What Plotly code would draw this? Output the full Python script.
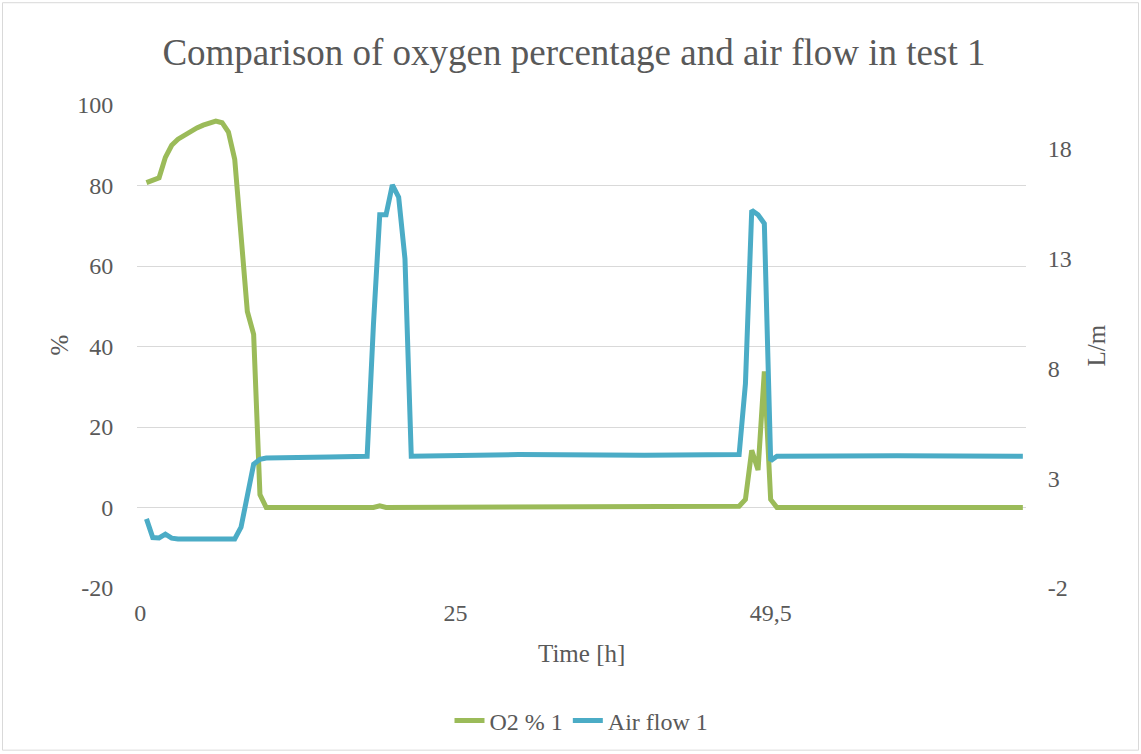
import plotly.graph_objects as go

# Sample positions (category index on the time axis, 0.5 h steps) and readings
o2_sample = [1, 2, 3, 4, 5, 6, 7, 8, 9, 10, 11, 12, 13, 14, 15, 16, 17, 18, 19, 20,
             37, 38, 39, 95, 96, 97, 98, 99, 100, 101, 140]
o2_pct = [80.7, 81.2, 81.9, 87.0, 90.0, 91.5, 92.5, 93.5, 94.3, 95.0, 95.6, 96.0, 95.6,
          93.3, 86.5, 67.5, 48.7, 43.0, 3.2, 0.0,
          0.0, 0.4, 0.0, 0.3, 2.0, 14.2, 9.3, 33.8, 2.0, 0.0, 0.0]

air_sample = [1, 2, 3, 4, 5, 6, 15, 16, 17, 18, 19, 20, 30, 36, 37, 38, 39, 40, 41, 42, 43,
              60, 80, 95, 96, 97, 98, 99, 100, 101, 120, 140]
air_flow = [1.15, 0.3, 0.28, 0.45, 0.27, 0.23, 0.23, 0.77, 2.2, 3.64, 3.86, 3.92, 3.97, 4.0,
            10.0, 15.0, 15.0, 16.36, 15.8, 13.0, 4.0,
            4.08, 4.05, 4.08, 7.3, 15.2, 15.0, 14.6, 3.8, 4.0, 4.02, 4.0]

time_tick_samples = [0, 50, 100]
time_tick_labels = ["0", "25", "49,5"]

pct_ticks = [-20, 0, 20, 40, 60, 80, 100]
pct_tick_labels = ["-20", "0", "20", "40", "60", "80", "100"]
flow_ticks = [-2, 3, 8, 13, 18]
flow_tick_labels = ["-2", "3", "8", "13", "18"]

GREEN = "#9BBB59"
BLUE = "#4BACC6"
TXT = "#595959"
FONT = "Liberation Serif"
TICK_SIZE = 24
AXTITLE_SIZE = 25

W, H = 1141, 754
L, R, T, B = 137, 1026, 105, 589  # plot area pixels

def px(x):
    return (x - L) / (R - L)

def py(y):
    return (B - y) / (B - T)

fig = go.Figure()
fig.add_trace(go.Scatter(x=o2_sample, y=o2_pct, name="O2 % 1", mode="lines",
                         line=dict(color=GREEN, width=5), yaxis="y"))
fig.add_trace(go.Scatter(x=air_sample, y=air_flow, name="Air flow 1", mode="lines",
                         line=dict(color=BLUE, width=5), yaxis="y2"))

tf = dict(family=FONT, size=TICK_SIZE, color=TXT)

fig.update_layout(
    width=W, height=H,
    margin=dict(l=L, r=W - R, t=T, b=H - B, pad=0),
    paper_bgcolor="white", plot_bgcolor="white",
    font=dict(family=FONT, color=TXT, size=TICK_SIZE),
    title=dict(text="Comparison of oxygen percentage and air flow in test 1",
               font=dict(family=FONT, size=37, color=TXT),
               x=0.503, xref="container", xanchor="center",
               y=1 - 52 / H, yref="container", yanchor="middle"),
    xaxis=dict(range=[-0.5, 140.5], tickmode="array", tickvals=time_tick_samples,
               ticktext=time_tick_labels, showgrid=False, zeroline=False,
               showline=False, ticks="outside", ticklen=3,
               tickcolor="rgba(0,0,0,0)", tickfont=tf),
    yaxis=dict(range=[-20, 100], tickmode="array", tickvals=pct_ticks,
               ticktext=pct_tick_labels, showgrid=True, gridcolor="#D9D9D9",
               gridwidth=1, zeroline=False, showline=False, ticks="outside", ticklen=18,
               tickcolor="rgba(0,0,0,0)", tickfont=tf),
    yaxis2=dict(range=[-2, 20], tickmode="array", tickvals=flow_ticks,
                ticktext=flow_tick_labels, overlaying="y", side="right",
                showgrid=False, zeroline=False, showline=False, ticks="outside",
                ticklen=16, tickcolor="rgba(0,0,0,0)", tickfont=tf),
    legend=dict(orientation="h", x=0.5, xanchor="center", y=py(721), yanchor="middle",
                font=tf, bgcolor="rgba(0,0,0,0)"),
    showlegend=True,
)

fig.add_annotation(text="%", x=px(60), y=py(346), xref="paper", yref="paper",
                   xanchor="center", yanchor="middle",
                   textangle=-90, showarrow=False,
                   font=dict(size=AXTITLE_SIZE, color=TXT, family=FONT))
fig.add_annotation(text="L/m", x=px(1097), y=py(346), xref="paper", yref="paper",
                   xanchor="center", yanchor="middle",
                   textangle=-90, showarrow=False,
                   font=dict(size=AXTITLE_SIZE, color=TXT, family=FONT))
fig.add_annotation(text="Time [h]", x=px(581), y=py(655), xref="paper", yref="paper",
                   xanchor="center", yanchor="middle",
                   showarrow=False, font=dict(size=AXTITLE_SIZE, color=TXT, family=FONT))

fig.add_shape(type="rect", xref="paper", yref="paper",
              x0=px(2.5), x1=px(1138.5), y0=py(751.5), y1=py(2.5),
              line=dict(color="#D9D9D9", width=1), fillcolor="rgba(0,0,0,0)", layer="below")

fig.write_html("out.html")
